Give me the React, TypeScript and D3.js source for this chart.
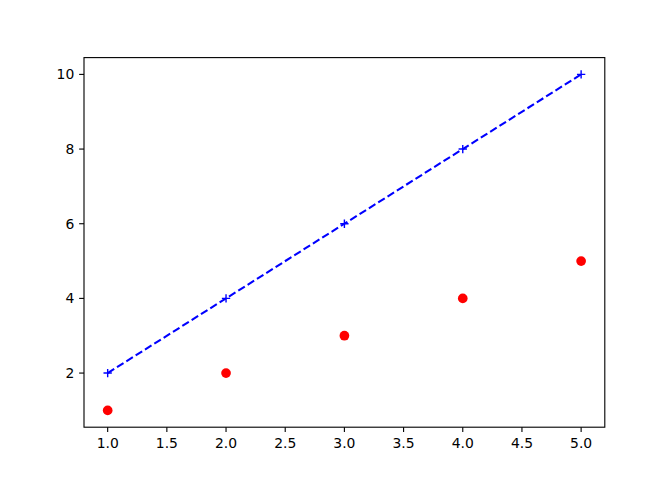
import React from "react";
import * as d3 from "d3";

const xValues = [1, 2, 3, 4, 5];
const lineValues = [2, 4, 6, 8, 10];
const dotValues = [1, 2, 3, 4, 5];
const xTicks = [1.0, 1.5, 2.0, 2.5, 3.0, 3.5, 4.0, 4.5, 5.0];
const yTicks = [2, 4, 6, 8, 10];

const W = 672;
const H = 480;
const left = 0.125 * W;
const right = 0.9 * W;
const top = 0.12 * H;
const bottom = 0.89 * H;

export default function App() {
  const x = d3.scaleLinear().domain([0.8, 5.2]).range([left, right]);
  const y = d3.scaleLinear().domain([0.55, 10.45]).range([bottom, top]);
  const line = d3
    .line<number>()
    .x((_, i) => x(xValues[i]))
    .y((d) => y(d));
  const font = "DejaVu Sans";
  const tick = 4.86;
  const pad = 4.86;
  return (
    <svg
      width={W}
      height={H}
      style={{ position: "absolute", left: 0, top: 0, background: "white" }}
    >
      <rect x={0} y={0} width={W} height={H} fill="white" />
      <path
        d={line(lineValues) || ""}
        fill="none"
        stroke="blue"
        strokeWidth={2.08}
        strokeDasharray="7.7,3.33"
      />
      {lineValues.map((v, i) => {
        const cx = x(xValues[i]);
        const cy = y(v);
        return (
          <path
            key={"p" + i}
            d={`M${cx - 4.17},${cy}H${cx + 4.17}M${cx},${cy - 4.17}V${cy + 4.17}`}
            stroke="blue"
            strokeWidth={1.4}
          />
        );
      })}
      {dotValues.map((v, i) => (
        <circle key={"c" + i} cx={x(xValues[i])} cy={y(v)} r={4.86} fill="red" />
      ))}
      <rect
        x={left}
        y={top}
        width={right - left}
        height={bottom - top}
        fill="none"
        stroke="black"
        strokeWidth={1.11}
      />
      {xTicks.map((t) => (
        <g key={"x" + t}>
          <line x1={x(t)} x2={x(t)} y1={bottom} y2={bottom + tick} stroke="black" strokeWidth={1.11} />
          <text
            x={x(t)}
            y={bottom + tick + pad + 11.2}
            textAnchor="middle"
            fontFamily={font}
            fontSize={13.9}
            fill="black"
          >
            {t.toFixed(1)}
          </text>
        </g>
      ))}
      {yTicks.map((t) => (
        <g key={"y" + t}>
          <line x1={left - tick} x2={left} y1={y(t)} y2={y(t)} stroke="black" strokeWidth={1.11} />
          <text
            x={left - tick - pad}
            y={y(t) + 5}
            textAnchor="end"
            fontFamily={font}
            fontSize={13.9}
            fill="black"
          >
            {t}
          </text>
        </g>
      ))}
    </svg>
  );
}
